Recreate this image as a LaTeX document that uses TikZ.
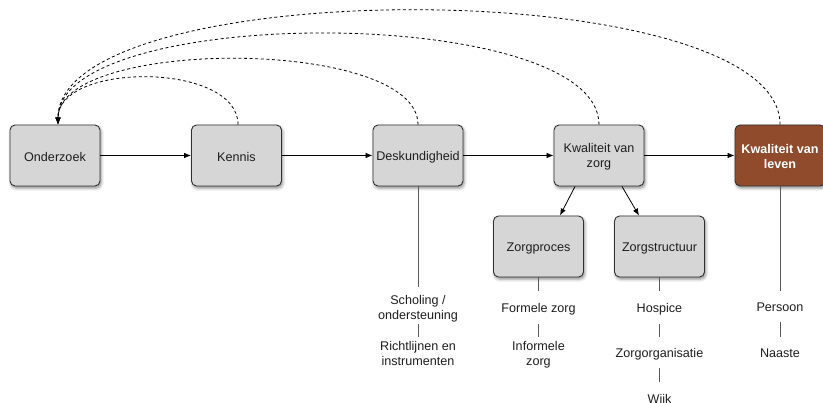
\documentclass[tikz,border=0pt]{standalone}
\usepackage{fontspec}
\setmainfont{Liberation Sans}
\usetikzlibrary{arrows.meta,shadows.blur}
\definecolor{boxfill}{RGB}{214,214,214}
\definecolor{boxdraw}{RGB}{48,48,48}
\definecolor{kvlfill}{RGB}{143,75,44}
\definecolor{txt}{RGB}{30,30,30}
\newcommand\bstrut{\rule[-0.5pt]{0pt}{13pt}}
\newcommand\lstrut{\rule[-2.6pt]{0pt}{11.6pt}}
\tikzset{
  box/.style={draw=boxdraw, line width=0.9pt, fill=boxfill, rounded corners=5pt,
    minimum width=90pt, minimum height=61pt, inner sep=2pt, align=center,
    font=\fontsize{12.6}{15}\selectfont, text=txt,
    blur shadow={shadow xshift=1.2pt, shadow yshift=-2.2pt, shadow blur radius=3pt, shadow opacity=45}},
  kvlbox/.style={box, fill=kvlfill, text=white, font=\fontsize{12.6}{15}\selectfont\bfseries},
  lbl/.style={inner sep=0pt, align=center, anchor=north, font=\fontsize{12.6}{15}\selectfont, text=txt},
  flow/.style={line width=0.8pt, draw=black, -{Latex[length=7pt,width=5.5pt]}},
  back/.style={line width=0.8pt, draw=black, dash pattern=on 3pt off 2.6pt, -{Latex[length=7pt,width=5.5pt]}},
  stem/.style={line width=0.9pt, draw=black!65},
}
\begin{document}
\begin{tikzpicture}[x=1pt,y=-1pt]
\useasboundingbox (0,0) rectangle (823,403);
% main boxes
\node[box] (ond) at (55,155.5) {\bstrut Onderzoek};
\node[box] (ken) at (236.5,155.5) {\bstrut Kennis};
\node[box] (desk) at (418,155.5) {\bstrut Deskundigheid};
\node[box] (kvz) at (599,155.5) {\bstrut Kwaliteit van\\\bstrut zorg};
\node[kvlbox] (kvl) at (780,155.5) {\bstrut Kwaliteit van\\\bstrut leven};
\node[box] (zp) at (538.5,246.5) {\bstrut Zorgproces};
\node[box] (zs) at (659.5,246.5) {\bstrut Zorgstructuur};
% labels
\node[lbl] (schol) at (418,295.5) {\lstrut Scholing /\\\lstrut ondersteuning};
\node[lbl] (richt) at (418,341.5) {\lstrut Richtlijnen en\\\lstrut instrumenten};
\node[lbl] (form) at (538.5,303.5) {\lstrut Formele zorg};
\node[lbl] (inform) at (538.5,341.5) {\lstrut Informele\\\lstrut zorg};
\node[lbl] (hosp) at (659.5,303.5) {\lstrut Hospice};
\node[lbl] (zorgorg) at (659.5,348.5) {\lstrut Zorgorganisatie};
\node[lbl] (wijk) at (659.5,393.8) {\lstrut Wijk};
\node[lbl] (pers) at (780,302.5) {\lstrut Persoon};
\node[lbl] (naaste) at (780,348.5) {\lstrut Naaste};
% flow arrows
\draw[flow] (ond.east) -- (ken.west);
\draw[flow] (ken.east) -- (desk.west);
\draw[flow] (desk.east) -- (kvz.west);
\draw[flow] (kvz.east) -- (kvl.west);
\draw[flow] ([xshift=-24pt]kvz.south) -- ([xshift=21.5pt]zp.north);
\draw[flow] ([xshift=23pt]kvz.south) -- ([xshift=-20.5pt]zs.north);
% dashed feedback arcs
\draw[back] ([xshift=1.5pt]ken.north) .. controls +(0,-62.7) and +(0,-62.7) .. ([xshift=3pt]ond.north);
\draw[back] (desk.north) .. controls +(0,-87.3) and +(0,-87.3) .. ([xshift=3pt]ond.north);
\draw[back] (kvz.north) .. controls +(0,-121) and +(0,-121) .. ([xshift=3pt]ond.north);
\draw[back] (kvl.north) .. controls +(0,-152) and +(0,-152) .. ([xshift=3pt]ond.north);
% stems
\draw[stem, shorten >=8.5pt] (desk.south) -- (schol.north);
\draw[stem, shorten <=1pt, shorten >=4.5pt] (schol.south) -- (richt.north);
\draw[stem, shorten >=12.5pt] (zp.south) -- (form.north);
\draw[stem, shorten <=8pt, shorten >=4.5pt] (form.south) -- (inform.north);
\draw[stem, shorten >=12.5pt] (zs.south) -- (hosp.north);
\draw[stem, shorten <=8pt, shorten >=11.5pt] (hosp.south) -- (zorgorg.north);
\draw[stem, shorten <=7pt, shorten >=11.8pt] (zorgorg.south) -- (wijk.north);
\draw[stem, shorten >=11.5pt] (kvl.south) -- (pers.north);
\draw[stem, shorten <=8pt, shorten >=11.5pt] (pers.south) -- (naaste.north);
\end{tikzpicture}
\end{document}
